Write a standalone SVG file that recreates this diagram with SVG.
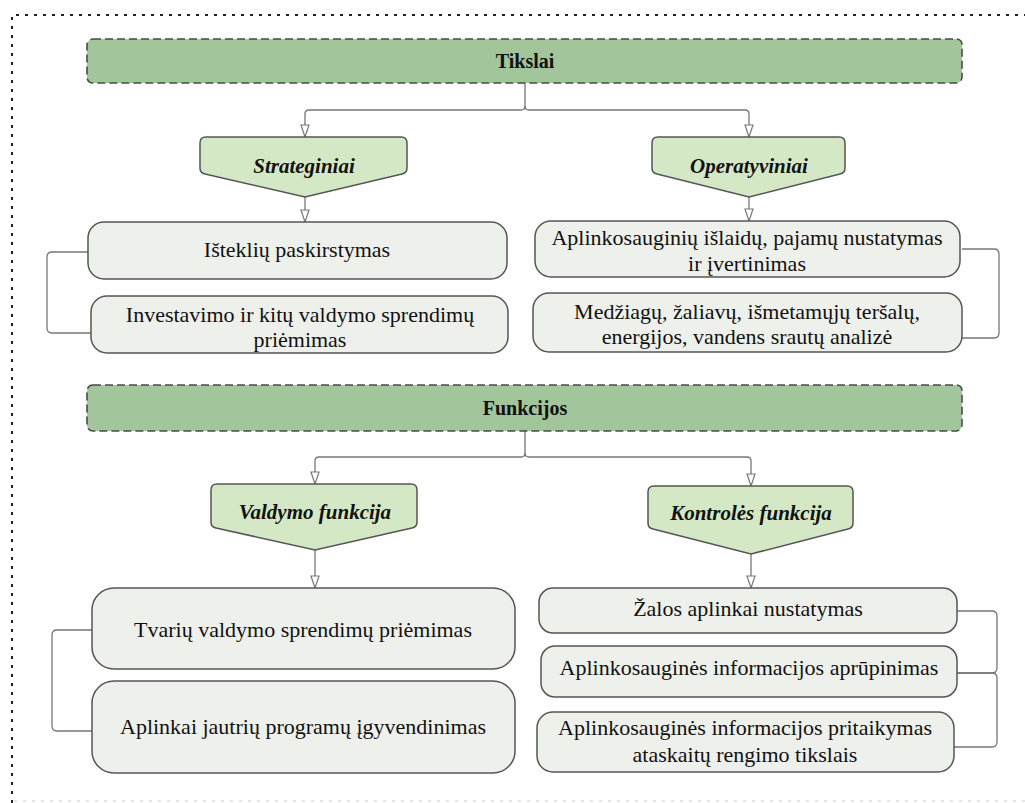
<svg xmlns="http://www.w3.org/2000/svg" width="1025" height="803" viewBox="0 0 1025 803">
<defs>
<style>
.bg{fill:#ffffff}
.frame{fill:none;stroke:#222;stroke-width:2;stroke-dasharray:3,6}
.frame2{fill:none;stroke:#ddd;stroke-width:1.5;stroke-dasharray:3,6}
.title{fill:#a3c59b;stroke:#4a4a4a;stroke-width:1.6;stroke-dasharray:8,4}
.sub{fill:#d5e8c5;stroke:#555;stroke-width:1.5}
.box{fill:#eef0ec;stroke:#555;stroke-width:1.5}
.con{fill:none;stroke:#777;stroke-width:1.3}
.t{font-family:"Liberation Serif","Times New Roman",serif;fill:#111;text-anchor:middle}
.tb{font-size:20px;font-weight:bold}
.ti{font-size:21px;font-weight:bold;font-style:italic}
.tr{font-size:22px}
</style>
<marker id="arr" markerWidth="14" markerHeight="10" refX="13" refY="5" orient="auto" markerUnits="userSpaceOnUse" viewBox="0 0 14 10">
<path d="M1,1 L1,9 L13,5 Z" fill="#fff" stroke="#777" stroke-width="1.2"/>
</marker>
</defs>
<rect class="bg" x="0" y="0" width="1025" height="803"/>
<path class="frame" d="M12,803 V15 H1025"/>
<path class="frame2" d="M14,801 H1025"/>

<g id="connectors">
<path class="con" d="M525,83 V106 Q525,110 521,110 H309 Q305,110 305,114 V137" marker-end="url(#arr)"/>
<path class="con" d="M525,106 Q525,110 529,110 H745 Q749,110 749,114 V137" marker-end="url(#arr)"/>
<path class="con" d="M305,197 V222" marker-end="url(#arr)"/>
<path class="con" d="M749,197 V221" marker-end="url(#arr)"/>
<path class="con" d="M88,252 H52 Q47,252 47,257 V328 Q47,333 52,333 H91"/>
<path class="con" d="M962,249 H994 Q999,249 999,254 V333 Q999,338 994,338 H962"/>
<path class="con" d="M525,431 V453 Q525,457 521,457 H319 Q315,457 315,461 V484" marker-end="url(#arr)"/>
<path class="con" d="M525,453 Q525,457 529,457 H747 Q751,457 751,461 V486" marker-end="url(#arr)"/>
<path class="con" d="M315,550 V588" marker-end="url(#arr)"/>
<path class="con" d="M751,554 V588" marker-end="url(#arr)"/>
<path class="con" d="M92,630 H57 Q52,630 52,635 V726 Q52,731 57,731 H92"/>
<path class="con" d="M957,611 H992 Q997,611 997,616 V668 Q997,673 992,673 H957"/>
<path class="con" d="M957,673 H992 Q997,673 997,678 V742 Q997,747 992,747 H954"/>
</g>

<g id="tikslai">
<rect class="title" x="87" y="39" width="875" height="44" rx="6"/>
<text class="t tb" x="525" y="68">Tikslai</text>
</g>
<g id="strateginiai">
<path class="sub" d="M200,143 Q200,137 206,137 H401 Q407,137 407,143 V168 Q407,173 402,174 L305,197 L205,174 Q200,173 200,168 Z"/>
<text class="t ti" x="304" y="173">Strateginiai</text>
</g>
<g id="operatyviniai">
<path class="sub" d="M652,143 Q652,137 658,137 H839 Q845,137 845,143 V168 Q845,173 840,174 L749,197 L657,174 Q652,173 652,168 Z"/>
<text class="t ti" x="749" y="173">Operatyviniai</text>
</g>
<g id="istekliu">
<rect class="box" x="88" y="222" width="419" height="57" rx="16"/>
<text class="t tr" x="297" y="257">Išteklių paskirstymas</text>
</g>
<g id="investavimo">
<rect class="box" x="91" y="296" width="417" height="57" rx="16"/>
<text class="t tr" x="300" y="322">Investavimo ir kitų valdymo sprendimų</text>
<text class="t tr" x="300" y="347">priėmimas</text>
</g>
<g id="islaidu">
<rect class="box" x="535" y="221" width="425" height="56" rx="16"/>
<text class="t tr" x="747" y="245">Aplinkosauginių išlaidų, pajamų nustatymas</text>
<text class="t tr" x="747" y="271">ir įvertinimas</text>
</g>
<g id="medziagu">
<rect class="box" x="533" y="293" width="429" height="59" rx="16"/>
<text class="t tr" x="747" y="319">Medžiagų, žaliavų, išmetamųjų teršalų,</text>
<text class="t tr" x="747" y="344">energijos, vandens srautų analizė</text>
</g>

<g id="funkcijos">
<rect class="title" x="87" y="385" width="875" height="46" rx="6"/>
<text class="t tb" x="525" y="415">Funkcijos</text>
</g>
<g id="valdymo-funkcija">
<path class="sub" d="M211,490 Q211,484 217,484 H411 Q417,484 417,490 V522 Q417,527 412,528 L315,550 L216,528 Q211,527 211,522 Z"/>
<text class="t ti" x="315" y="519">Valdymo funkcija</text>
</g>
<g id="kontroles-funkcija">
<path class="sub" d="M648,492 Q648,486 654,486 H847 Q853,486 853,492 V523 Q853,528 848,529 L751,554 L653,529 Q648,528 648,523 Z"/>
<text class="t ti" x="751" y="520">Kontrolės funkcija</text>
</g>
<g id="tvariu">
<rect class="box" x="92" y="588" width="423" height="81" rx="22"/>
<text class="t tr" x="303" y="637">Tvarių valdymo sprendimų priėmimas</text>
</g>
<g id="aplinkai">
<rect class="box" x="92" y="681" width="423" height="92" rx="22"/>
<text class="t tr" x="303" y="734">Aplinkai jautrių programų įgyvendinimas</text>
</g>
<g id="zalos">
<rect class="box" x="539" y="588" width="418" height="45" rx="14"/>
<text class="t tr" x="748" y="616">Žalos aplinkai nustatymas</text>
</g>
<g id="aprupinimas">
<rect class="box" x="541" y="646" width="416" height="51" rx="14"/>
<text class="t tr" x="749" y="675">Aplinkosauginės informacijos aprūpinimas</text>
</g>
<g id="pritaikymas">
<rect class="box" x="537" y="712" width="417" height="60" rx="16"/>
<text class="t tr" x="745" y="735">Aplinkosauginės informacijos pritaikymas</text>
<text class="t tr" x="745" y="762">ataskaitų rengimo tikslais</text>
</g>
</svg>
